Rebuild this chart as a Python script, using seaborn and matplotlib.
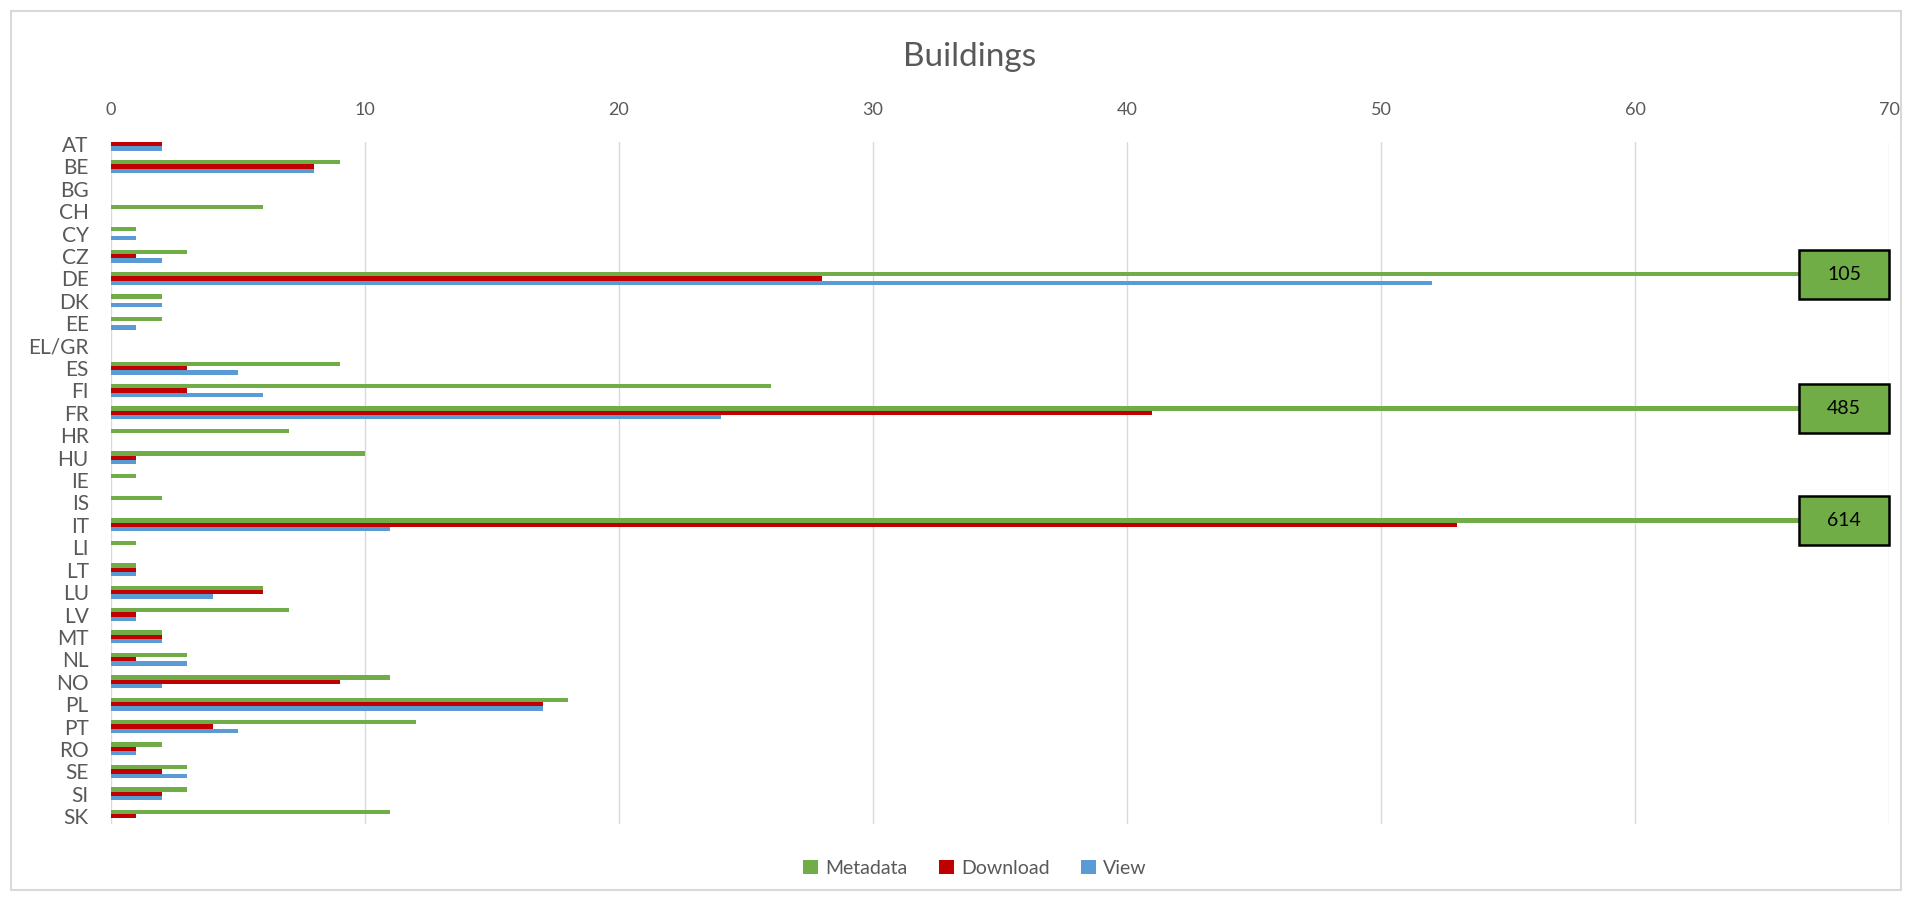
import matplotlib
matplotlib.use("Agg")
import matplotlib.pyplot as plt
from matplotlib.patches import Patch, Rectangle
import seaborn as sns
import pandas as pd

countries = ["AT", "BE", "BG", "CH", "CY", "CZ", "DE", "DK", "EE", "EL/GR", "ES", "FI",
             "FR", "HR", "HU", "IE", "IS", "IT", "LI", "LT", "LU", "LV", "MT", "NL",
             "NO", "PL", "PT", "RO", "SE", "SI", "SK"]
metadata = [0, 9, 0, 6, 1, 3, 105, 2, 2, 0, 9, 26, 485, 7, 10, 1, 2, 614, 1, 1, 6, 7, 2, 3,
            11, 18, 12, 2, 3, 3, 11]
download = [2, 8, 0, 0, 0, 1, 28, 0, 0, 0, 3, 3, 41, 0, 1, 0, 0, 53, 0, 1, 6, 1, 2, 1,
            9, 17, 4, 1, 2, 2, 1]
view = [2, 8, 0, 0, 1, 2, 52, 2, 1, 0, 5, 6, 24, 0, 1, 0, 0, 11, 0, 1, 4, 1, 2, 3,
        2, 17, 5, 1, 3, 2, 0]
series = ["Metadata", "Download", "View"]
colors = ["#70AD47", "#C00000", "#5B9BD5"]
x_ticks = [0, 10, 20, 30, 40, 50, 60, 70]
title = "Buildings"

df = pd.DataFrame({
    "country": countries * 3,
    "series": [series[0]] * len(countries) + [series[1]] * len(countries) + [series[2]] * len(countries),
    "value": metadata + download + view,
})

sns.set_theme(style="white")
plt.rcParams["font.family"] = ["Lato", "DejaVu Sans"]

fig = plt.figure(figsize=(19.12, 9.01), dpi=100)

# chart-area border
fig.add_artist(Rectangle((11 / 1912, 11 / 901), (1901 - 11) / 1912, (890 - 11) / 901,
                         transform=fig.transFigure, facecolor="none",
                         edgecolor="#D9D9D9", lw=1.5))

ax = fig.add_axes([111 / 1912, 1 - 824 / 901, (1889 - 111) / 1912, (824 - 142) / 901])

bar_w = 0.58
sns.barplot(data=df, y="country", x="value", hue="series", hue_order=series,
            palette=colors, orient="h", width=bar_w, gap=0, saturation=1,
            order=countries, ax=ax, legend=False, errorbar=None, linewidth=0)

ax.set_xlim(0, 70)
ax.set_ylim(30.35, -0.09)
ax.set_xticks(x_ticks)
ax.xaxis.tick_top()
ax.tick_params(axis="x", length=0, pad=17, labelsize=13, labelcolor="#595959")
ax.tick_params(axis="y", length=0, pad=16, labelsize=15, labelcolor="#595959")
ax.grid(axis="x", color="#D9D9D9", lw=1)
ax.grid(axis="y", visible=False)
ax.set_axisbelow(True)
for s in ax.spines.values():
    s.set_visible(False)
ax.set_xlabel("")
ax.set_ylabel("")

# Value boxes for Metadata bars beyond the axis range
xmax = 70
box_w = 3.54
box_h = 2.19
green_off = -bar_w / 3
for i, v in enumerate(metadata):
    if v > xmax:
        yc = i + green_off
        ax.add_patch(Rectangle((xmax - box_w, yc - box_h / 2), box_w, box_h,
                               facecolor=colors[0], edgecolor="black", lw=1.8,
                               zorder=5, clip_on=False))
        ax.text(xmax - box_w / 2, yc, str(v), ha="center", va="center",
                fontsize=14, color="black", zorder=6)

fig.text(0.507, 1 - 57 / 901, title, ha="center", va="center", fontsize=24, color="#595959")

handles = [Patch(facecolor=c, edgecolor="none") for c in colors]
fig.legend(handles, series, loc="center", bbox_to_anchor=(0.51, 1 - 868 / 901), ncol=3,
           frameon=False, fontsize=14, handlelength=0.75, handleheight=0.75,
           handletextpad=0.4, columnspacing=1.6, labelcolor="#595959")

fig.savefig("out.png", dpi=100)
